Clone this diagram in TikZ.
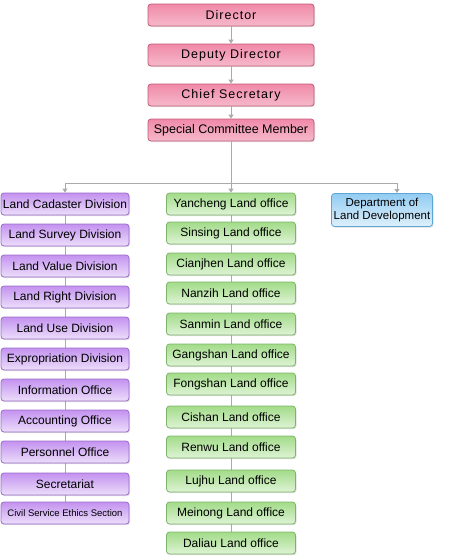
\documentclass[tikz,border=0pt]{standalone}
\usepackage{fontspec}
\setmainfont{Liberation Sans}
\usetikzlibrary{arrows.meta,shadows}

\definecolor{headline}{HTML}{C45A78}
\definecolor{headfill}{HTML}{F08AA8}
\definecolor{divline}{HTML}{9A6BC8}
\definecolor{divfill}{HTML}{C392F0}
\definecolor{offline}{HTML}{7DB46A}
\definecolor{offfill}{HTML}{A2DC88}
\definecolor{deptline}{HTML}{5EA6D6}
\definecolor{deptfill}{HTML}{92CCF2}
\definecolor{wire}{HTML}{AAAAAA}

\begin{document}
\begin{tikzpicture}[x=1pt, y=-1pt,
    % Define styles
    box/.style={rectangle, rounded corners=3pt, line width=0.8pt, text centered, inner sep=1pt,
        drop shadow={opacity=0.25, shadow xshift=1pt, shadow yshift=-1.2pt}},
    head/.style={box, draw=headline, top color=headfill, middle color=headfill!45, bottom color=headfill!60,
        minimum width=166pt, minimum height=22pt, font=\fontsize{12.5}{14}\selectfont\addfontfeature{LetterSpace=8}},
    division/.style={box, draw=divline, top color=divfill, middle color=divfill!55, bottom color=divfill!30,
        minimum width=128pt, minimum height=22pt, font=\fontsize{12}{14}\selectfont},
    office/.style={box, draw=offline, top color=offfill, middle color=offfill!60, bottom color=offfill!35,
        minimum width=129pt, minimum height=22pt, font=\fontsize{12}{14}\selectfont},
    dept/.style={box, draw=deptline, top color=deptfill, middle color=deptfill!55, bottom color=deptfill!30,
        minimum width=101pt, minimum height=33pt, align=center, font=\fontsize{11.5}{13}\selectfont},
    arrow/.style={-{Triangle[width=5pt,length=4pt]}, wire, line width=0.9pt},
    line/.style={wire, line width=0.9pt}
]
\useasboundingbox (0,0) rectangle (467,560);

% Top of the chart
\node[head] (director) at (231,15) {Director};
\node[head] (deputy) at (231,55) {Deputy Director};
\node[head] (chief) at (231,95) {Chief Secretary};
\node[head, font=\fontsize{12.5}{14}\selectfont] (special) at (231,130) {Special Committee Member};

% Branch point
\coordinate (bus) at (231,183);
\coordinate (deptin) at (397,193);

% Connections behind the boxes
\draw[line] (65,204) -- (65,513);
\draw[line] (231,204) -- (231,543);

% Divisions
\node[division] (cadaster) at (65,204) {Land Cadaster Division};
\node[division] (survey) at (65,235) {Land Survey Division};
\node[division] (value) at (65,266) {Land Value Division};
\node[division] (right) at (65,297) {Land Right Division};
\node[division] (use) at (65,328) {Land Use Division};
\node[division] (expro) at (65,359) {Expropriation Division};
\node[division] (info) at (65,390) {Information Office};
\node[division] (account) at (65,421) {Accounting Office};
\node[division] (personnel) at (65,452) {Personnel Office};
\node[division] (secret) at (65,484) {Secretariat};
\node[division, font=\fontsize{9.5}{11}\selectfont] (ethics) at (65,513) {Civil Service Ethics Section};

% Land offices
\node[office] (yancheng) at (231,204) {Yancheng Land office};
\node[office] (sinsing) at (231,233) {Sinsing Land office};
\node[office] (cianjhen) at (231,264) {Cianjhen Land office};
\node[office] (nanzih) at (231,293) {Nanzih Land office};
\node[office] (sanmin) at (231,324) {Sanmin Land office};
\node[office] (gangshan) at (231,355) {Gangshan Land office};
\node[office] (fongshan) at (231,384) {Fongshan Land office};
\node[office] (cishan) at (231,417) {Cishan Land office};
\node[office] (renwu) at (231,447) {Renwu Land office};
\node[office] (lujhu) at (231,481) {Lujhu Land office};
\node[office] (meinong) at (231,513) {Meinong Land office};
\node[office] (daliau) at (231,543) {Daliau Land office};

% Department
\node[dept] (landdev) at (382,210) {Department of\\Land Development};

% Chain of command
\draw[arrow] (director) -- (deputy);
\draw[arrow] (deputy) -- (chief);
\draw[arrow] (chief) -- (special);
\draw[line] (special) -- (bus);
\draw[arrow] (bus) -| (cadaster);
\draw[arrow] (bus) -- (yancheng);
\draw[arrow] (bus) -| (deptin);

\end{tikzpicture}
\end{document}
